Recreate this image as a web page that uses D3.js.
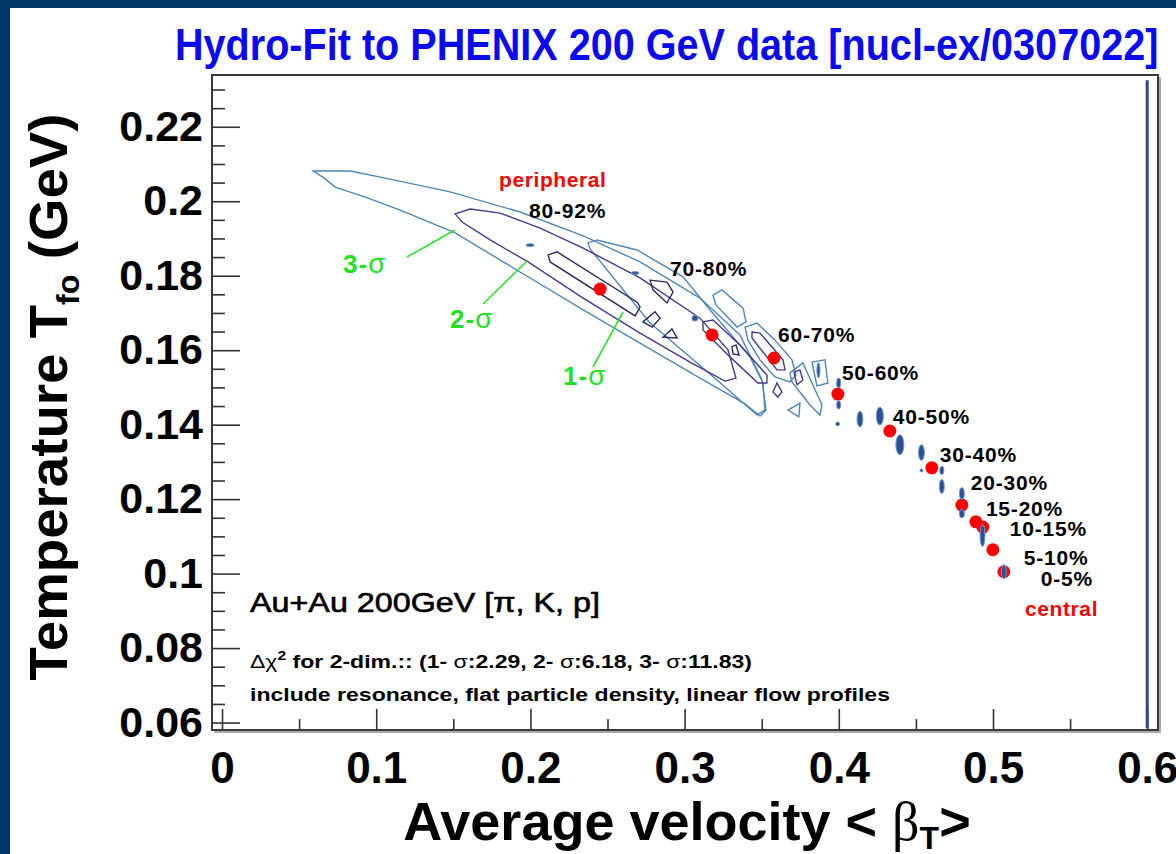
<!DOCTYPE html>
<html>
<head>
<meta charset="utf-8">
<script src="https://cdn.jsdelivr.net/npm/d3@7"></script>
<style>
  html, body { margin: 0; padding: 0; background: #04366a; }
  svg { display: block; }
  text { font-family: "Liberation Sans", Arial, Helvetica, sans-serif; }
</style>
</head>
<body>
<svg id="chart" width="1176" height="854"></svg>
<script>
// ---- fit results: centrality classes, fitted <beta_T> and T_fo ----
const centrality = ["80-92%", "70-80%", "60-70%", "50-60%", "40-50%", "30-40%",
                    "20-30%", "15-20%", "10-15%", "5-10%", "0-5%"];
const betaT  = [0.2452, 0.3178, 0.3580, 0.3994, 0.4331, 0.4603, 0.4798, 0.4889, 0.4934, 0.4999, 0.5070];
const tempFO = [0.1764, 0.1641, 0.1579, 0.1482, 0.1383, 0.1284, 0.1184, 0.1139, 0.1125, 0.1064, 0.1005];

// axis ticks
const xMajorTicks = [0, 0.1, 0.2, 0.3, 0.4, 0.5, 0.6];
const xMinorTicks = [0.05, 0.15, 0.25, 0.35, 0.45, 0.55];
const yMajorTicks = [0.06, 0.08, 0.1, 0.12, 0.14, 0.16, 0.18, 0.2, 0.22];
const yMinorTicks = [0.065, 0.07, 0.075, 0.085, 0.09, 0.095, 0.105, 0.11, 0.115, 0.125, 0.13, 0.135,
                     0.145, 0.15, 0.155, 0.165, 0.17, 0.175, 0.185, 0.19, 0.195, 0.205, 0.21, 0.215,
                     0.225, 0.23];

// confidence contours, vertices as [beta_T, T_fo]
const contour3Sigma = [
  // 80-92%
  [[0.0592,0.2081],[0.0832,0.2081],[0.1058,0.2062],[0.1480,0.2025],[0.1933,0.1971],[0.2342,0.1907],
   [0.2711,0.1837],[0.3100,0.1740],[0.3359,0.1641],[0.3502,0.1520],[0.3528,0.1439],[0.3489,0.1423],
   [0.3392,0.1456],[0.3100,0.1525],[0.2711,0.1619],[0.2342,0.1708],[0.1933,0.1810],[0.1512,0.1915],
   [0.1156,0.1976],[0.0929,0.2011],[0.0734,0.2038],[0.0663,0.2062]],
  // 70-80%
  [[0.2374,0.1888],[0.2432,0.1896],[0.2692,0.1869],[0.2990,0.1797],[0.3165,0.1708],[0.3424,0.1582],
   [0.3508,0.1512],[0.3521,0.1439],[0.3469,0.1426],[0.3210,0.1520],[0.2776,0.1673],[0.2387,0.1872]],
  // 60-70%
  [[0.3184,0.1748],[0.3242,0.1762],[0.3379,0.1713],[0.3398,0.1676],[0.3340,0.1662],[0.3204,0.1721]],
  [[0.3392,0.1662],[0.3469,0.1673],[0.3586,0.1627],[0.3696,0.1574],[0.3722,0.1533],[0.3683,0.1515],
   [0.3586,0.1528],[0.3489,0.1574],[0.3411,0.1627]],
  [[0.3670,0.1439],[0.3748,0.1458],[0.3741,0.1421]],
  // 50-60%
  [[0.3683,0.1539],[0.3767,0.1566],[0.3826,0.1512],[0.3891,0.1453],[0.3878,0.1426],[0.3813,0.1453],
   [0.3696,0.1515]],
  [[0.3826,0.1568],[0.3910,0.1574],[0.3929,0.1512],[0.3858,0.1504]]
];
const contour2Sigma = [
  // 80-92%
  [[0.1512,0.1966],[0.1609,0.1979],[0.1804,0.1968],[0.2063,0.1928],[0.2342,0.1874],[0.2711,0.1794],
   [0.3100,0.1686],[0.3281,0.1601],[0.3333,0.1525],[0.3262,0.1517],[0.3035,0.1568],[0.2711,0.1646],
   [0.2342,0.1740],[0.1985,0.1837],[0.1739,0.1896],[0.1557,0.1944]],
  // 70-80%
  [[0.3119,0.1676],[0.3184,0.1681],[0.3359,0.1614],[0.3534,0.1533],[0.3534,0.1512],[0.3476,0.1512],
   [0.3294,0.1582],[0.3119,0.1654]],
  // 60-70%
  [[0.3437,0.1649],[0.3489,0.1646],[0.3638,0.1574],[0.3651,0.1547],[0.3599,0.1547],[0.3437,0.1633]],
  [[0.3599,0.1512],[0.3631,0.1488],[0.3605,0.1474],[0.3573,0.1488]],
  // 50-60%
  [[0.3709,0.1541],[0.3748,0.1547],[0.3767,0.1520],[0.3729,0.1507]]
];
const contour1Sigma = [
  // 80-92%
  [[0.2115,0.1856],[0.2173,0.1864],[0.2692,0.1729],[0.2711,0.1716],[0.2679,0.1692],[0.2128,0.1837]],
  // 70-80%
  [[0.2776,0.1788],[0.2886,0.1783],[0.2925,0.1756],[0.2886,0.1727],[0.2795,0.1762]],
  [[0.2730,0.1676],[0.2808,0.1703],[0.2841,0.1686],[0.2789,0.1662]],
  [[0.2860,0.1635],[0.2918,0.1657],[0.2951,0.1633]],
  [[0.3307,0.1609],[0.3333,0.1614],[0.3353,0.1587],[0.3314,0.1590]]
];
// small closed contours: centre [beta_T, T_fo] and half extents
const islandCentre = [[0.1998,0.1882],[0.2679,0.1807],[0.3067,0.1686],[0.3868,0.1546],
                      [0.3999,0.1512],[0.3999,0.1453],[0.3993,0.1402],[0.4137,0.1415],[0.4266,0.1423],
                      [0.4396,0.1346],[0.4536,0.1325],[0.4536,0.1277],[0.4668,0.1277],[0.4668,0.1234],
                      [0.4798,0.1215],[0.4798,0.1161],[0.4932,0.1103],[0.5070,0.1005]];
const islandHalfBeta = [0.0026,0.0026,0.0020,0.0010,
                        0.0013,0.0013,0.0013,0.0019,0.0023,0.0026,0.0019,0.0010,0.0013,0.0016,0.0016,0.0016,0.0016,0.0016];
const islandHalfT    = [0.0004,0.0004,0.0008,0.0020,
                        0.0013,0.0011,0.0005,0.0021,0.0024,0.0027,0.0021,0.0004,0.0011,0.0019,0.0016,0.0011,0.0030,0.0019];

// ---- layout ----
const W = 1176, H = 854;
const frame = {left: 212, right: 1158, top: 75, bottom: 730};
const labelOffset = [[-71,-71],[-42,-59],[4,-16],[4,-14],[3,-7],[8,-6],[9,-15],[10,-6],[27,9],[31,15],[37,14]];

const svg = d3.select("#chart");

// page background and white canvas
svg.append("rect").attr("width", W).attr("height", H).attr("fill", "#04366a");
svg.append("rect").attr("x", 10).attr("y", 8).attr("width", W - 10).attr("height", H - 8).attr("fill", "#ffffff");

const x = d3.scaleLinear().domain([-0.0065, 0.607]).range([frame.left, frame.right]);
const y = d3.scaleLinear().domain([0.058, 0.2339]).range([frame.bottom, frame.top]);

// title, narrowed horizontally
svg.append("text")
  .attr("transform", "translate(175,60) scale(0.9,1)")
  .attr("font-size", 44).attr("font-weight", "bold").attr("fill", "#0a0af0")
  .text("Hydro-Fit to PHENIX 200 GeV data [nucl-ex/0307022]");

// frame with a light shadow on the lower-right edges
svg.append("path")
  .attr("d", `M${frame.right + 2},${frame.top + 2}V${frame.bottom + 2}H${frame.left + 2}`)
  .attr("fill", "none").attr("stroke", "#aaaaaa").attr("stroke-width", 2);
svg.append("rect")
  .attr("x", frame.left).attr("y", frame.top)
  .attr("width", frame.right - frame.left).attr("height", frame.bottom - frame.top)
  .attr("fill", "none").attr("stroke", "#3a3a3a").attr("stroke-width", 2);

// axes: ticks drawn inward from the frame
function styleAxis(g) {
  g.select(".domain").remove();
  g.selectAll(".tick line").attr("stroke", "#333").attr("stroke-width", 1.6);
}
svg.append("g").attr("transform", `translate(${frame.left},0)`)
  .call(d3.axisLeft(y).tickValues(yMinorTicks).tickSize(-13).tickFormat(""))
  .call(styleAxis);
const yAxis = svg.append("g").attr("transform", `translate(${frame.left},0)`)
  .call(d3.axisLeft(y).tickValues(yMajorTicks).tickSize(-28).tickPadding(9).tickFormat(d3.format("~g")))
  .call(styleAxis);
yAxis.selectAll(".tick text")
  .attr("font-size", 43).attr("font-weight", "bold").attr("fill", "#000")
  .attr("font-family", "Liberation Sans, Arial, sans-serif");

svg.append("g").attr("transform", `translate(0,${frame.bottom})`)
  .call(d3.axisBottom(x).tickValues(xMinorTicks).tickSize(-11).tickFormat(""))
  .call(styleAxis);
const xAxis = svg.append("g").attr("transform", `translate(0,${frame.bottom})`)
  .call(d3.axisBottom(x).tickValues(xMajorTicks).tickSize(-21).tickPadding(22).tickFormat(d3.format("~g")))
  .call(styleAxis);
xAxis.selectAll(".tick text")
  .attr("font-size", 44).attr("font-weight", "bold").attr("fill", "#000")
  .attr("font-family", "Liberation Sans, Arial, sans-serif");

// axis titles
const yTitle = svg.append("text")
  .attr("transform", "translate(67,397) rotate(-90)")
  .attr("text-anchor", "middle").attr("font-size", 54).attr("font-weight", "bold")
  .attr("textLength", 567).attr("lengthAdjust", "spacingAndGlyphs");
yTitle.append("tspan").text("Temperature T");
yTitle.append("tspan").attr("font-size", 32).attr("dy", 12).text("fo");
yTitle.append("tspan").attr("dy", -12).text(" (GeV)");

const xTitle = svg.append("text")
  .attr("x", 687).attr("y", 840)
  .attr("text-anchor", "middle").attr("font-size", 54).attr("font-weight", "bold");
xTitle.append("tspan").text("Average velocity < ");
xTitle.append("tspan").attr("font-weight", "normal").attr("font-family", "Liberation Serif, serif").text("β");
xTitle.append("tspan").attr("font-size", 32).attr("dy", 9).text("T");
xTitle.append("tspan").attr("dy", -9).text(">");

// vertical boundary line at beta_T = 0.6
svg.append("line")
  .attr("x1", x(0.6)).attr("x2", x(0.6)).attr("y1", y(0.2325)).attr("y2", y(0.0585))
  .attr("stroke", "#2a4a8c").attr("stroke-width", 3);

// contours
const contourLine = d3.line().x(d => x(d[0])).y(d => y(d[1])).curve(d3.curveLinearClosed);
const plot = svg.append("g");
plot.selectAll("path.c3").data(contour3Sigma).join("path").attr("class", "c3")
  .attr("d", contourLine).attr("fill", "none").attr("stroke", "#4f87b5").attr("stroke-width", 1.4);
plot.selectAll("path.c2").data(contour2Sigma).join("path").attr("class", "c2")
  .attr("d", contourLine).attr("fill", "none").attr("stroke", "#46398f").attr("stroke-width", 1.4);
plot.selectAll("path.c1").data(contour1Sigma).join("path").attr("class", "c1")
  .attr("d", contourLine).attr("fill", "none").attr("stroke", "#2c2c62").attr("stroke-width", 1.4);

const islands = islandCentre.map((c, i) => ({c, hb: islandHalfBeta[i], ht: islandHalfT[i]}));

// fit centres
plot.selectAll("circle.fit").data(betaT.map((b, i) => [b, tempFO[i]])).join("circle")
  .attr("class", "fit")
  .attr("cx", d => x(d[0])).attr("cy", d => y(d[1])).attr("r", 6.5)
  .attr("fill", "#ff0000");

plot.selectAll("ellipse.island").data(islands).join("ellipse").attr("class", "island")
  .attr("cx", d => x(d.c[0])).attr("cy", d => y(d.c[1]))
  .attr("rx", d => x(d.c[0] + d.hb) - x(d.c[0]))
  .attr("ry", d => y(d.c[1]) - y(d.c[1] + d.ht))
  .attr("fill", "#2d4f96").attr("stroke", "#6f9fcc").attr("stroke-width", 1);

// centrality labels
plot.selectAll("text.cent").data(centrality).join("text").attr("class", "cent")
  .attr("x", (d, i) => x(betaT[i]) + labelOffset[i][0])
  .attr("y", (d, i) => y(tempFO[i]) + labelOffset[i][1])
  .attr("font-size", 21).attr("font-weight", "bold").attr("letter-spacing", 0.8)
  .text(d => d);

svg.append("text").attr("x", 499).attr("y", 187).attr("fill", "#ff0000")
  .attr("font-size", 21).attr("font-weight", "bold").attr("letter-spacing", 0.6).text("peripheral");
svg.append("text").attr("x", 1025).attr("y", 616).attr("fill", "#ff0000")
  .attr("font-size", 21).attr("font-weight", "bold").attr("letter-spacing", 0.6).text("central");

// sigma annotations with pointer lines
const sigmaDigits = ["3-", "2-", "1-"];
const sigmaText = [[343, 273], [450, 328], [563, 385]];
const sigmaPointer = [[[407, 257], [455, 230]], [[483, 304], [528, 260]], [[593, 367], [623, 312]]];
svg.selectAll("line.ptr").data(sigmaPointer).join("line").attr("class", "ptr")
  .attr("x1", d => d[0][0]).attr("y1", d => d[0][1]).attr("x2", d => d[1][0]).attr("y2", d => d[1][1])
  .attr("stroke", "#33dd33").attr("stroke-width", 1.6);
const sig = svg.selectAll("text.sig").data(sigmaDigits).join("text").attr("class", "sig")
  .attr("x", (d, i) => sigmaText[i][0]).attr("y", (d, i) => sigmaText[i][1])
  .attr("font-size", 26).attr("font-weight", "bold").attr("fill", "#22e022")
  .attr("letter-spacing", 1);
sig.append("tspan").text(d => d);
sig.append("tspan").attr("font-weight", "normal").attr("font-size", 28).text("σ");

// description block
svg.append("text").attr("x", 250).attr("y", 612).attr("font-size", 27)
  .attr("stroke", "#000").attr("stroke-width", 0.6)
  .attr("textLength", 350).attr("lengthAdjust", "spacingAndGlyphs")
  .text("Au+Au 200GeV [π, K, p]");
const chi = svg.append("text").attr("x", 250).attr("y", 668).attr("font-size", 19).attr("font-weight", "bold")
  .attr("textLength", 502).attr("lengthAdjust", "spacingAndGlyphs");
chi.append("tspan").attr("font-weight", "normal").text("Δχ");
chi.append("tspan").attr("font-size", 13).attr("dy", -8).text("2");
chi.append("tspan").attr("dy", 8).text(" for 2-dim.:: (1- ");
chi.append("tspan").attr("font-weight", "normal").text("σ");
chi.append("tspan").text(":2.29, 2- ");
chi.append("tspan").attr("font-weight", "normal").text("σ");
chi.append("tspan").text(":6.18, 3- ");
chi.append("tspan").attr("font-weight", "normal").text("σ");
chi.append("tspan").text(":11.83)");
svg.append("text").attr("x", 250).attr("y", 701).attr("font-size", 18).attr("font-weight", "bold")
  .attr("textLength", 640).attr("lengthAdjust", "spacingAndGlyphs")
  .text("include resonance, flat particle density, linear flow profiles");
</script>
</body>
</html>
